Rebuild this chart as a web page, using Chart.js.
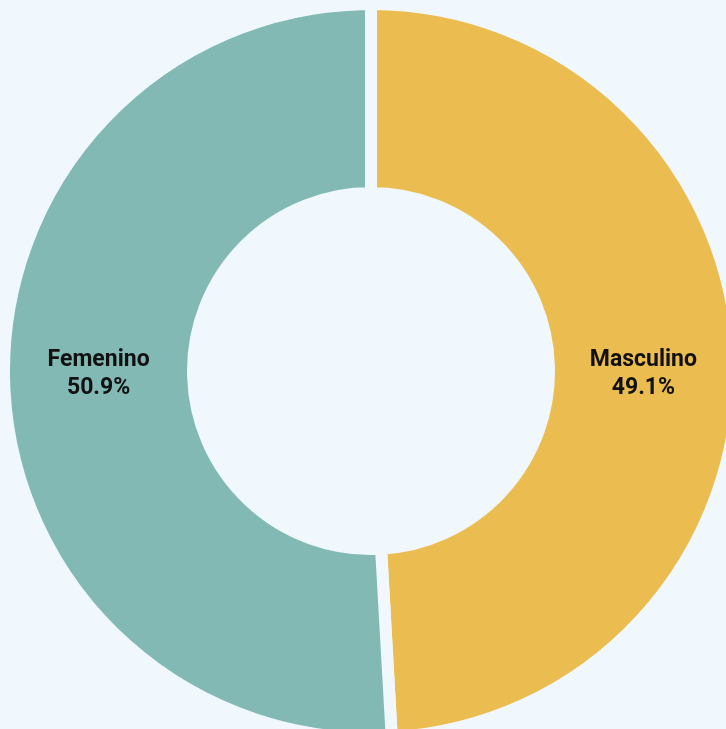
<!DOCTYPE html>
<html>
<head>
<meta charset="utf-8">
<script src="https://cdn.jsdelivr.net/npm/chart.js@4/dist/chart.umd.min.js"></script>
<style>
  html, body { margin: 0; padding: 0; width: 726px; height: 729px; overflow: hidden; background: #f0f8fd; }
  #wrap { position: absolute; left: -2px; top: -2px; width: 746px; height: 746px; }
</style>
</head>
<body>
<div id="wrap"><canvas id="genero" width="746" height="746"></canvas></div>
<script>
(function() {
    'use strict';

    // datos
    const categorias = ['Masculino', 'Femenino'];
    const porcentajes = [49.1, 50.9];
    const colores = ['#ebbd51', '#82b9b4'];
    const fondo = '#f0f8fd';

    // etiquetas dentro de cada sector: nombre + porcentaje
    const etiquetas = {
        id: 'etiquetas',
        afterDatasetsDraw(chart) {
            const ctx = chart.ctx;
            const meta = chart.getDatasetMeta(0);
            ctx.save();
            ctx.fillStyle = '#111111';
            ctx.textAlign = 'center';
            ctx.textBaseline = 'middle';
            ctx.font = 'bold 23px Roboto, "Noto Sans", sans-serif';
            meta.data.forEach((arc, i) => {
                const p = arc.getProps(['x', 'y', 'startAngle', 'endAngle', 'innerRadius', 'outerRadius'], true);
                const mid = (p.startAngle + p.endAngle) / 2;
                const rho = (p.innerRadius + p.outerRadius) / 2;
                const x = p.x + Math.cos(mid) * rho;
                const y = p.y + 3;
                ctx.fillText(categorias[i], x, y - 14);
                ctx.fillText(porcentajes[i].toFixed(1) + '%', x, y + 14);
            });
            ctx.restore();
        }
    };

    new Chart(document.getElementById('genero'), {
        type: 'doughnut',
        data: {
            labels: categorias,
            datasets: [{
                data: porcentajes,
                backgroundColor: colores,
                borderColor: fondo,
                borderWidth: 12,
                hoverOffset: 0
            }]
        },
        options: {
            responsive: false,
            animation: false,
            cutout: '48.5%',
            layout: { padding: 0 },
            plugins: {
                legend: { display: false },
                tooltip: { enabled: false }
            }
        },
        plugins: [etiquetas]
    });
})();
</script>
</body>
</html>
